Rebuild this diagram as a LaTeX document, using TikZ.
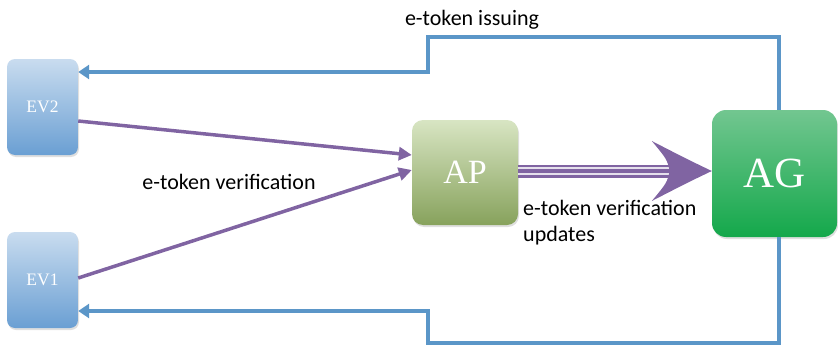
\documentclass[tikz,border=0pt]{standalone}
\usepackage{fontspec}
\newfontfamily\labfont{Carlito}
\newfontfamily\serfont{Liberation Serif}
\usetikzlibrary{arrows.meta,shadows}
\definecolor{lineblue}{HTML}{5B96C8}
\definecolor{purp}{HTML}{8064A2}
\definecolor{evtop}{HTML}{C9DCEF}
\definecolor{evbot}{HTML}{6A9FD3}
\definecolor{aptop}{HTML}{D8E5C3}
\definecolor{apbot}{HTML}{87A25C}
\definecolor{agtop}{HTML}{72C690}
\definecolor{agbot}{HTML}{14A84B}
\tikzset{
  evbox/.style={rounded corners=8pt, top color=evtop, bottom color=evbot, draw=none,
    minimum width=71pt, minimum height=96pt, text=white, font=\serfont\fontsize{17.5}{20}\selectfont,
    drop shadow={shadow xshift=1pt, shadow yshift=-2pt, opacity=0.25}},
  apbox/.style={rounded corners=11pt, top color=aptop, bottom color=apbot, draw=none,
    minimum width=106pt, minimum height=105pt, text=white, font=\serfont\fontsize{34}{38}\selectfont,
    drop shadow={shadow xshift=1pt, shadow yshift=-2pt, opacity=0.25}},
  agbox/.style={rounded corners=14pt, top color=agtop, bottom color=agbot, draw=none,
    minimum width=125pt, minimum height=127pt, text=white, font=\serfont\fontsize{43}{46}\selectfont,
    drop shadow={shadow xshift=1pt, shadow yshift=-2pt, opacity=0.25}},
  blueline/.style={draw=lineblue, line width=4pt, -{Triangle[length=11pt,width=14pt]}},
  purpline/.style={draw=purp, line width=3.5pt, -{Triangle[length=13pt,width=13pt]}},
  lab/.style={font=\labfont\fontsize{22}{26}\selectfont, text=black, inner sep=0pt}
}
\begin{document}
\begin{tikzpicture}[x=1pt,y=-1pt]
\useasboundingbox (0,0) rectangle (838,348);
\node[evbox] (EV2) at (42.5,107) {EV2};
\node[evbox] (EV1) at (42.5,280) {EV1};
\node[apbox] (AP) at (465,172.5) {AP};
\node[agbox] (AG) at (774.5,173.5) {AG};

% blue issuing connectors
\coordinate (ti) at ([xshift=4.5pt]AG.north);
\coordinate (bi) at ([xshift=4.5pt]AG.south);
\draw[blueline, line join=miter] (ti) |- (428,37) -- (428,72) -- (EV2.east |- 0,72);
\draw[blueline, line join=miter] (bi) |- (428,343) -- (428,311) -- (EV1.east |- 0,311);

% purple verification arrows
\draw[purpline] (EV2.east |- 0,121) -- (AP.west |- 0,155);
\draw[purpline] (EV1.east |- 0,278) -- (AP.west |- 0,170);

% big update arrow
\coordinate (s) at (AP.east |- 0,171);
\coordinate (t) at (AG.west |- 0,171);
\draw[purp, line width=13pt] (s) -- ([xshift=-40pt]t);
\draw[white!80!purp, line width=1.3pt] ([yshift=3pt]s) -- ([xshift=-40pt,yshift=3pt]t);
\draw[white!80!purp, line width=1.3pt] ([yshift=-3pt]s) -- ([xshift=-40pt,yshift=-3pt]t);
\fill[purp] (t) .. controls ([xshift=-25pt,yshift=-12pt]t) .. ([xshift=-60pt,yshift=-30pt]t)
  .. controls ([xshift=-45pt,yshift=-12pt]t) .. ([xshift=-42pt]t)
  .. controls ([xshift=-45pt,yshift=12pt]t) .. ([xshift=-60pt,yshift=30pt]t)
  .. controls ([xshift=-25pt,yshift=12pt]t) .. (t) -- cycle;

% labels
\node[lab] (l1) at (472,20) {e-token issuing};
\node[lab] (l2) at (229,182) {e-token verification};
\node[lab, anchor=north west, align=left] (l3) at (523,200) {e-token verification\\updates};
\end{tikzpicture}
\end{document}
